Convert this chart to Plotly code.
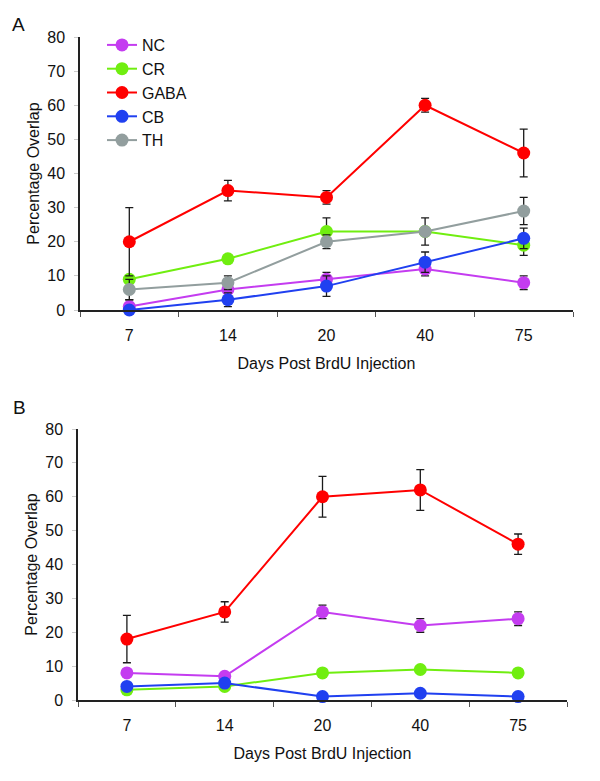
import plotly.graph_objects as go

days = ["7", "14", "20", "40", "75"]
series_names = ["NC", "CR", "GABA", "CB", "TH"]
colors = {"NC": "#C43CF0", "CR": "#70EE10", "GABA": "#FF0000", "CB": "#2040F0", "TH": "#929E9E"}

# Panel A values (mean, error)
a_nc = [1, 6, 9, 12, 8]
a_nc_err = [2, 2, 2, 2, 2]
a_cr = [9, 15, 23, 23, 19]
a_cr_err = [1, 1, 4, 1, 3]
a_gaba = [20, 35, 33, 60, 46]
a_gaba_err = [10, 3, 2, 2, 7]
a_cb = [0, 3, 7, 14, 21]
a_cb_err = [0.5, 2, 3, 3, 3]
a_th = [6, 8, 20, 23, 29]
a_th_err = [3, 2, 2, 4, 4]

# Panel B values (mean, error)
b_nc = [8, 7, 26, 22, 24]
b_nc_err = [1, 1, 2, 2, 2]
b_cr = [3, 4, 8, 9, 8]
b_cr_err = [0.5, 0.5, 0.5, 0.5, 0.5]
b_gaba = [18, 26, 60, 62, 46]
b_gaba_err = [7, 3, 6, 6, 3]
b_cb = [4, 5, 1, 2, 1]
b_cb_err = [0.5, 0.5, 0.5, 0.5, 0.5]

y_ticks = [0, 10, 20, 30, 40, 50, 60, 70, 80]

panel_a = {"NC": (a_nc, a_nc_err), "CR": (a_cr, a_cr_err), "GABA": (a_gaba, a_gaba_err),
           "CB": (a_cb, a_cb_err), "TH": (a_th, a_th_err)}
panel_b = {"NC": (b_nc, b_nc_err), "CR": (b_cr, b_cr_err), "GABA": (b_gaba, b_gaba_err),
           "CB": (b_cb, b_cb_err)}

FONT = "Liberation Sans, Arial, sans-serif"
fig = go.Figure()


def add(panel, xa, ya, legend):
    for name in series_names:
        if name not in panel:
            continue
        vals, errs = panel[name]
        minus = [min(e, v) for v, e in zip(vals, errs)]
        fig.add_trace(go.Scatter(
            x=days, y=vals, name=name, mode="lines+markers",
            xaxis=xa, yaxis=ya, showlegend=legend,
            line=dict(color=colors[name], width=2),
            marker=dict(color=colors[name], size=13),
            error_y=dict(type="data", array=errs, arrayminus=minus, visible=True,
                         color="#1a1a1a", thickness=1.3, width=4),
            cliponaxis=False,
        ))


add(panel_a, "x", "y", True)
add(panel_b, "x2", "y2", False)

# the page body adds an 8 px offset; figure is sized to fit the window
OFF = 8
W = 600 - OFF
H = 781 - OFF


def px(v):
    return (v - OFF) / W


def py(v):
    return 1 - (v - OFF) / H


xax = dict(type="category", categoryorder="array", categoryarray=days,
           range=[-0.5, 4.5], tickson="boundaries", ticks="outside", ticklen=5,
           tickcolor="#555", showline=True, linecolor="#222", linewidth=1.5,
           showgrid=False, zeroline=False, automargin=False, ticklabelstandoff=10,
           tickfont=dict(family=FONT, size=16, color="#111"),
           title=dict(text="Days Post BrdU Injection", standoff=15,
                      font=dict(family=FONT, size=16, color="#111")))
yax = dict(range=[0, 80], tickvals=y_ticks, ticks="outside", ticklen=4, tickcolor="#ccc",
           showline=True, linecolor="#222", linewidth=1.5, showgrid=False, zeroline=False,
           ticklabelstandoff=6, automargin=False,
           tickfont=dict(family=FONT, size=16, color="#111"),
           title=dict(text="Percentage Overlap", standoff=4,
                      font=dict(family=FONT, size=16, color="#111")))

fig.update_layout(
    width=W, height=H,
    margin=dict(l=0, r=0, t=0, b=0),
    paper_bgcolor="white", plot_bgcolor="white",
    font=dict(family=FONT, size=16, color="#111"),
    xaxis=dict(xax, domain=[px(80), px(573)], anchor="y"),
    yaxis=dict(yax, domain=[py(310), py(37)], anchor="x"),
    xaxis2=dict(xax, domain=[px(78), px(567)], anchor="y2"),
    yaxis2=dict(yax, domain=[py(700), py(429)], anchor="x2"),
    legend=dict(x=px(102), y=py(28), xanchor="left", yanchor="top",
                bgcolor="rgba(0,0,0,0)", font=dict(family=FONT, size=16, color="#111")),
    annotations=[
        dict(text="A", x=px(18.5), y=py(24), xref="paper", yref="paper",
             xanchor="center", yanchor="middle",
             showarrow=False, font=dict(family=FONT, size=19, color="#111")),
        dict(text="B", x=px(19), y=py(407), xref="paper", yref="paper",
             xanchor="center", yanchor="middle",
             showarrow=False, font=dict(family=FONT, size=19, color="#111")),
    ],
)

fig.write_html("out.html")
